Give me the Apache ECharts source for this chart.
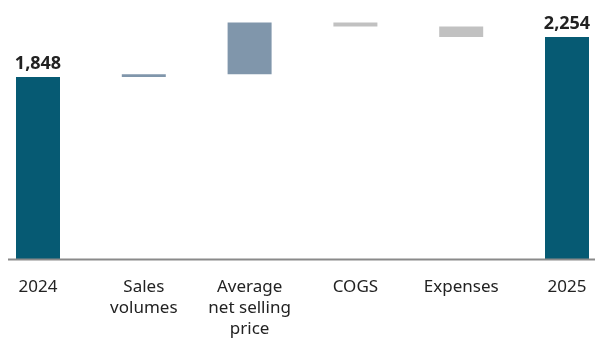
<!DOCTYPE html>
<html><head><meta charset="utf-8">
<script src="https://cdn.jsdelivr.net/npm/echarts@6/dist/echarts.min.js"></script>
<style>html,body{margin:0;padding:0;background:#fff}#c{width:595px;height:340px}</style>
</head><body><div id="c"></div>
<script>
var categories = ['2024', 'Sales\nvolumes', 'Average\nnet selling\nprice', 'COGS', 'Expenses', '2025'];
var changes = [1848, 28, 527, -41, -108, 2254];
var kinds = ['total', 'delta', 'delta', 'delta', 'delta', 'total'];
var colors = { total: '#065a73', up: '#8096ab', down: '#c1c1c1' };

var base = [], visible = [], running = 0;
for (var i = 0; i < changes.length; i++) {
  if (kinds[i] === 'total') { base.push(0); visible.push({ value: changes[i], itemStyle: { color: colors.total } }); running = changes[i]; }
  else {
    var v = changes[i];
    if (v >= 0) { base.push(running); running += v; visible.push({ value: v, itemStyle: { color: colors.up } }); }
    else { running += v; base.push(running); visible.push({ value: -v, itemStyle: { color: colors.down } }); }
  }
}

var chart = echarts.init(document.getElementById('c'), null, { renderer: 'canvas' });
chart.setOption({
  animation: false,
  grid: { left: 38, right: 28, top: 3, bottom: 81, containLabel: false, outerBoundsMode: 'none' },
  xAxis: {
    type: 'category', data: categories, boundaryGap: false,
    axisLine: { show: false }, axisTick: { show: false },
    axisLabel: { interval: 0, margin: 18, color: '#222', fontSize: 17, lineHeight: 21, fontFamily: 'Noto Sans', align: 'center' }
  },
  yAxis: { type: 'value', min: 0, max: 2600, show: false, splitLine: { show: false } },
  series: [
    { type: 'bar', stack: 'w', data: base, itemStyle: { color: 'transparent' }, barWidth: 44, silent: true },
    { type: 'bar', stack: 'w', data: visible, barWidth: 44,
      label: { show: true, position: 'top', distance: 4, fontWeight: 'bold', fontSize: 18, color: '#222', fontFamily: 'Noto Sans',
        formatter: function (p) { return kinds[p.dataIndex] === 'total' ? p.value.toLocaleString('en-US') : ''; } } }
  ]
});
var yb = chart.convertToPixel({ yAxisIndex: 0 }, 0);
chart.setOption({ graphic: [{ type: 'line', shape: { x1: 8, y1: yb + 0.5, x2: 595, y2: yb + 0.5 }, style: { stroke: '#8a8a8a', lineWidth: 2 }, z: 10 }] });
</script></body></html>
